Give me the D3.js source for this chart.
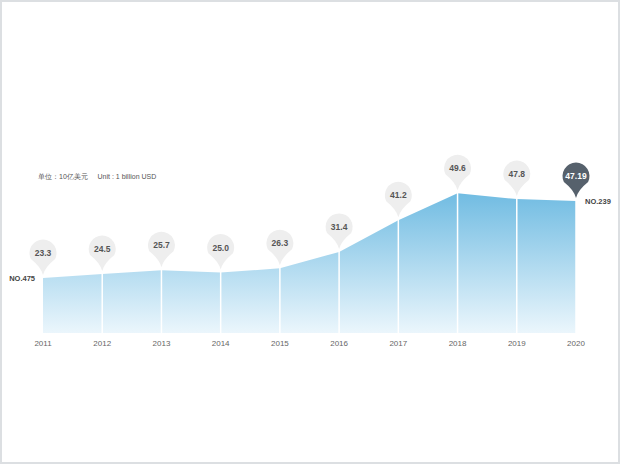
<!DOCTYPE html>
<html>
<head>
<meta charset="utf-8">
<script src="https://cdn.jsdelivr.net/npm/d3@7"></script>
<style>
  html, body { margin: 0; padding: 0; background: #fff; }
  svg { display: block; font-family: "Liberation Sans", Arial, sans-serif; }
</style>
</head>
<body>
<svg id="chart" width="620" height="464"></svg>
<script>
const years = ["2011", "2012", "2013", "2014", "2015", "2016", "2017", "2018", "2019", "2020"];
const values = [23.3, 24.5, 25.7, 25.0, 26.3, 31.4, 41.2, 49.6, 47.8, 47.19];
const valueLabels = ["23.3", "24.5", "25.7", "25.0", "26.3", "31.4", "41.2", "49.6", "47.8", "47.19"];
const rankStart = "NO.475";
const rankEnd = "NO.239";
const unitText = "单位：10亿美元     Unit : 1 billion USD";

const svg = d3.select("#chart");
const W = 620, H = 464;

// frame
svg.append("rect")
  .attr("x", 1).attr("y", 1)
  .attr("width", W - 2).attr("height", H - 2)
  .attr("fill", "#fff")
  .attr("stroke", "#dcdfe2")
  .attr("stroke-width", 2);

const baseY = 333;

const x = d3.scalePoint()
  .domain(years)
  .range([43, 576]);

// area sits on a baseline above zero, so the scale runs past it
const y = d3.scaleLinear()
  .domain([0, 50])
  .range([353, 192]);

const pts = years.map((yr, i) => ({ yr, v: values[i], label: valueLabels[i], i }));

// gradient
const defs = svg.append("defs");
const grad = defs.append("linearGradient")
  .attr("id", "areaGrad")
  .attr("gradientUnits", "userSpaceOnUse")
  .attr("x1", 0).attr("x2", 0)
  .attr("y1", y(d3.max(values))).attr("y2", baseY);
grad.append("stop").attr("offset", "0%").attr("stop-color", "#71bce2");
grad.append("stop").attr("offset", "100%").attr("stop-color", "#ebf6fc");

const area = d3.area()
  .x(d => x(d.yr))
  .y0(baseY)
  .y1(d => y(d.v));

svg.append("path")
  .datum(pts)
  .attr("fill", "url(#areaGrad)")
  .attr("d", area);

// white drop lines
svg.append("g")
  .selectAll("line")
  .data(pts.slice(1))
  .enter()
  .append("line")
  .attr("x1", d => x(d.yr)).attr("x2", d => x(d.yr))
  .attr("y1", d => y(d.v) - 3).attr("y2", baseY)
  .attr("stroke", "#fff")
  .attr("stroke-width", 1.5);

// year labels
svg.append("g")
  .selectAll("text")
  .data(years)
  .enter()
  .append("text")
  .attr("x", d => x(d))
  .attr("y", 346)
  .attr("text-anchor", "middle")
  .attr("font-size", 8)
  .attr("fill", "#666")
  .text(d => d);

// pins
const r = 13.5, cy = -25, tip = -3;
const a = Math.asin(6 / r);
const px = r * Math.cos(a), py = cy + r * Math.sin(a);
const pinPath = `M0,${tip} Q-2,${tip - 8} ${-px},${py} A${r},${r} 0 1 1 ${px},${py} Q2,${tip - 8} 0,${tip} Z`;

const pins = svg.append("g")
  .selectAll("g")
  .data(pts)
  .enter()
  .append("g")
  .attr("transform", d => `translate(${x(d.yr)},${y(d.v)})`);

pins.append("path")
  .attr("d", pinPath)
  .attr("fill", d => d.i === pts.length - 1 ? "#56616c" : "#eeeeee");

pins.append("text")
  .attr("y", cy + 3)
  .attr("text-anchor", "middle")
  .attr("font-size", 8.5)
  .attr("font-weight", "bold")
  .attr("fill", d => d.i === pts.length - 1 ? "#fff" : "#555")
  .text(d => d.label);

// rank labels
svg.append("text")
  .attr("x", x(years[0]) - 8)
  .attr("y", y(values[0]) + 3)
  .attr("text-anchor", "end")
  .attr("font-size", 7.5)
  .attr("font-weight", "bold")
  .attr("fill", "#444")
  .text(rankStart);

svg.append("text")
  .attr("x", x(years[years.length - 1]) + 9)
  .attr("y", y(values[values.length - 1]) + 3)
  .attr("font-size", 7.5)
  .attr("font-weight", "bold")
  .attr("fill", "#444")
  .text(rankEnd);

// unit note
svg.append("text")
  .attr("x", 38)
  .attr("y", 179)
  .attr("font-size", 7)
  .attr("fill", "#555")
  .attr("xml:space", "preserve")
  .style("white-space", "pre")
  .text(unitText);
</script>
</body>
</html>
